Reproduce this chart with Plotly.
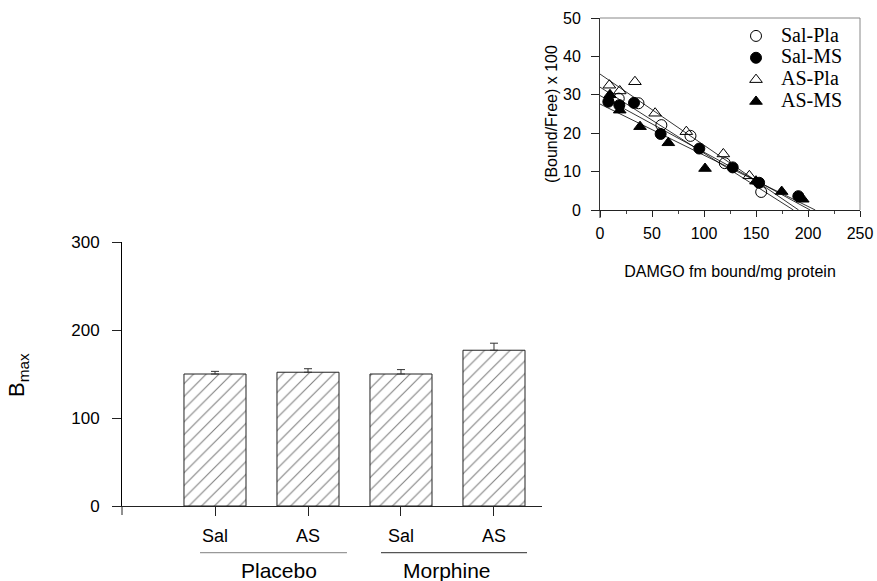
import plotly.graph_objects as go

W, H = 877, 581

# ---------------- data: bar chart (Bmax) ----------------
bar_labels = ["Sal", "AS", "Sal", "AS"]
bar_values = [150, 152, 150, 177]
bar_errors = [3, 4, 5, 8]
group_names = ["Placebo", "Morphine"]

# ---------------- data: Scatchard plot ----------------
series_names = ["Sal-Pla", "Sal-MS", "AS-Pla", "AS-MS"]
sal_pla_x = [18, 37, 59, 87, 120, 155]
sal_pla_y = [29.0, 27.8, 22.1, 19.3, 12.2, 4.7]
sal_ms_x = [8, 18.6, 32.7, 58.3, 95.5, 127.6, 153, 190.7]
sal_ms_y = [28.2, 27.3, 27.9, 19.8, 16.0, 11.1, 7.1, 3.6]
as_pla_x = [9, 19, 33.6, 53, 83, 118.6, 143.6]
as_pla_y = [32.5, 31.0, 33.4, 25.2, 20.4, 14.6, 8.9]
as_ms_x = [9.6, 19, 38.5, 65.7, 101, 150, 174.7, 195]
as_ms_y = [30.0, 26.0, 21.7, 17.5, 10.8, 7.5, 4.8, 2.8]
# regression lines: y-intercept and x-intercept (Bmax)
fit_y0 = [32.0, 29.8, 35.4, 27.6]
fit_x0 = [186, 202, 191, 207]

sym = ["circle-open", "circle", "triangle-up-open", "triangle-up"]
xs = [sal_pla_x, sal_ms_x, as_pla_x, as_ms_x]
ys = [sal_pla_y, sal_ms_y, as_pla_y, as_ms_y]

def px(x):
    return x / W

def py(y):
    return 1 - y / H

fig = go.Figure()

# bars
fig.add_trace(go.Bar(
    x=list(range(len(bar_values))), y=bar_values, width=0.667,
    marker=dict(color="white", line=dict(color="#222222", width=1),
                pattern=dict(shape="/", size=9, solidity=0.12, fgcolor="#000000", bgcolor="white")),
    error_y=dict(type="data", symmetric=False, array=bar_errors,
                 arrayminus=[0] * len(bar_errors), color="#333333", thickness=1, width=4),
    showlegend=False, xaxis="x", yaxis="y",
))

# regression lines
for b, x0 in zip(fit_y0, fit_x0):
    fig.add_trace(go.Scatter(x=[0, x0], y=[b, 0], mode="lines",
                             line=dict(color="black", width=0.8),
                             showlegend=False, xaxis="x2", yaxis="y2", hoverinfo="skip"))

# points
for name, s, x, y in zip(series_names, sym, xs, ys):
    fig.add_trace(go.Scatter(
        x=x, y=y, mode="markers",
        name="<span style='font-size:20px'>" + name + "</span>",
        marker=dict(symbol=s, size=11, color="black", line=dict(color="black", width=1)),
        xaxis="x2", yaxis="y2",
    ))

sans = "Liberation Sans, Arial, sans-serif"

fig.update_layout(
    width=W, height=H,
    margin=dict(l=0, r=0, t=0, b=0, autoexpand=False),
    paper_bgcolor="white", plot_bgcolor="white",
    font=dict(family=sans, color="black"),
    xaxis=dict(domain=[px(122), px(541.7)], range=[-1.0, 3.513],
               tickvals=list(range(len(bar_labels))), ticktext=bar_labels,
               showline=True, linecolor="#222", linewidth=1, ticks="outside", ticklen=9,
               tickcolor="#222", tickfont=dict(size=18), ticklabelstandoff=4,
               showgrid=False, zeroline=False, anchor="y", automargin=False),
    yaxis=dict(domain=[py(506), py(242)], range=[0, 300], tickvals=[0, 100, 200, 300],
               showline=True, linecolor="black", linewidth=1, ticks="outside", ticklen=9,
               tickcolor="#222", tickfont=dict(size=17), ticklabelstandoff=9,
               showgrid=False, zeroline=False, anchor="x", automargin=False),
    xaxis2=dict(domain=[px(600), px(860)], range=[0, 250], tickvals=[0, 50, 100, 150, 200, 250],
                showline=True, linecolor="#222", linewidth=1, ticks="outside", ticklen=6,
                tickcolor="#222", tickfont=dict(size=16), ticklabelstandoff=3,
                minor=dict(dtick=25, ticks="outside", ticklen=3, tickcolor="#444"),
                title=dict(text="DAMGO fm bound/mg protein", font=dict(size=16), standoff=24),
                showgrid=False, zeroline=False, anchor="y2", automargin=False),
    yaxis2=dict(domain=[py(210), py(18)], range=[0, 50], tickvals=[0, 10, 20, 30, 40, 50],
                showline=True, linecolor="#333", linewidth=1, ticks="outside", ticklen=8,
                tickcolor="#222", tickfont=dict(size=16), ticklabelstandoff=7,
                title=dict(text="(Bound/Free) x 100", font=dict(size=16), standoff=1),
                showgrid=False, zeroline=False, anchor="x2", automargin=False),
    legend=dict(x=px(731), y=py(20), xanchor="left", yanchor="top", itemwidth=40,
                bgcolor="rgba(0,0,0,0)", borderwidth=0, tracegroupgap=0,
                font=dict(family="Liberation Serif, Times New Roman, serif", size=14.5)),
    showlegend=True,
)

shapes = [
    # frame of the Scatchard plot (top / right)
    dict(type="line", xref="paper", yref="paper", x0=px(600), x1=px(860), y0=py(18), y1=py(18),
         line=dict(color="#888", width=1)),
    dict(type="line", xref="paper", yref="paper", x0=px(860), x1=px(860), y0=py(18), y1=py(210),
         line=dict(color="#888", width=1)),
    # axis extensions below origin
    dict(type="line", xref="paper", yref="paper", x0=px(600), x1=px(600), y0=py(210), y1=py(218),
         line=dict(color="#222", width=1)),
    dict(type="line", xref="paper", yref="paper", x0=px(122), x1=px(122), y0=py(506), y1=py(515),
         line=dict(color="#222", width=1)),
    # group underlines
    dict(type="line", xref="x", yref="paper", x0=-0.161, x1=1.419, y0=py(552.7), y1=py(552.7),
         line=dict(color="#999", width=1.2)),
    dict(type="line", xref="x", yref="paper", x0=1.785, x1=3.355, y0=py(552.7), y1=py(552.7),
         line=dict(color="#555", width=1.2)),
]
fig.update_layout(shapes=shapes)

annotations = [
    dict(text=group_names[0], xref="x", yref="paper", x=0.69, y=py(570.5),
         showarrow=False, font=dict(size=21), xanchor="center", yanchor="middle"),
    dict(text=group_names[1], xref="x", yref="paper", x=2.49, y=py(570.5),
         showarrow=False, font=dict(size=21), xanchor="center", yanchor="middle"),
    dict(text="B<sub>max</sub>", xref="paper", yref="paper", x=px(18), y=py(375),
         textangle=-90, showarrow=False, font=dict(size=22), xanchor="center", yanchor="middle"),
]
fig.update_layout(annotations=annotations)

fig.write_html("out.html", config={"displayModeBar": False},
               post_script="document.body.style.margin='0px';document.body.style.overflow='hidden';")
